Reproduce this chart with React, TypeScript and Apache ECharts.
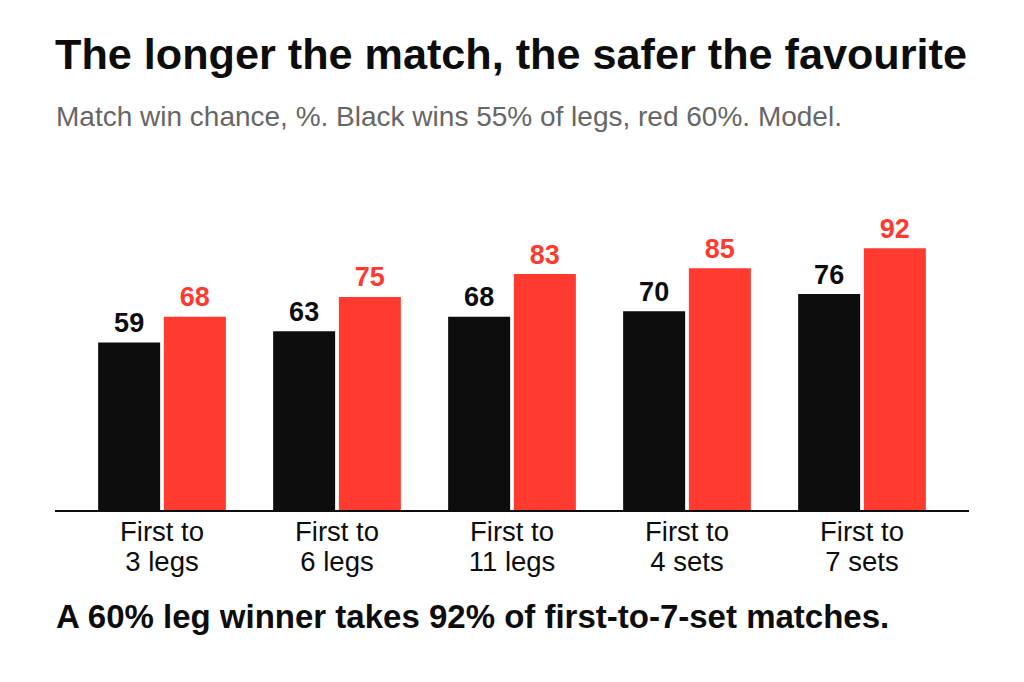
import React, { useEffect, useRef } from "react";
import * as echarts from "echarts";

const categories: string[] = [
  "First to\n3 legs",
  "First to\n6 legs",
  "First to\n11 legs",
  "First to\n4 sets",
  "First to\n7 sets",
];
const blackValues: number[] = [59, 63, 68, 70, 76];
const redValues: number[] = [68, 75, 83, 85, 92];

const TITLE = "The longer the match, the safer the favourite";
const SUBTITLE = "Match win chance, %. Black wins 55% of legs, red 60%. Model.";
const FOOTNOTE = "A 60% leg winner takes 92% of first-to-7-set matches.";

const FONT = "'Liberation Sans', Arial, Helvetica, sans-serif";
const BLACK = "#0d0d0d";
const RED = "#ff3b30";

export default function App() {
  const ref = useRef<HTMLDivElement>(null);

  useEffect(() => {
    if (!ref.current) return;
    const chart = echarts.init(ref.current, undefined, { renderer: "svg" });
    const labelBase = {
      show: true,
      position: "top" as const,
      distance: 6,
      fontFamily: FONT,
      fontSize: 27,
      fontWeight: "bold" as const,
    };
    chart.setOption({
      animation: false,
      backgroundColor: "#ffffff",
      textStyle: { fontFamily: FONT },
      title: [
        {
          text: TITLE,
          left: 55,
          top: 32,
          padding: 0,
          textStyle: { fontFamily: FONT, fontSize: 43.2, fontWeight: "bold", color: BLACK },
        },
        {
          text: SUBTITLE,
          left: 56,
          top: 102,
          padding: 0,
          textStyle: { fontFamily: FONT, fontSize: 28, fontWeight: "normal", color: "#666666" },
        },
        {
          text: FOOTNOTE,
          left: 56,
          top: 599.5,
          padding: 0,
          textStyle: { fontFamily: FONT, fontSize: 33, fontWeight: "bold", color: BLACK },
        },
      ],
      grid: { left: 74.5, right: 74.5, top: 225.5, bottom: 171, containLabel: false },
      xAxis: {
        type: "category",
        data: categories,
        axisLine: { show: false },
        axisTick: { show: false },
        axisLabel: {
          margin: 5.5,
          fontFamily: FONT,
          fontSize: 27.5,
          lineHeight: 30,
          color: BLACK,
        },
      },
      yAxis: {
        type: "value",
        min: 0,
        max: 100,
        show: false,
        splitLine: { show: false },
      },
      graphic: [
        {
          type: "line",
          z: 100,
          shape: { x1: 55, y1: 511, x2: 969, y2: 511 },
          style: { stroke: BLACK, lineWidth: 2 },
        },
      ],
      series: [
        {
          type: "bar",
          data: blackValues,
          barWidth: 62,
          barGap: "6%",
          itemStyle: { color: BLACK },
          label: { ...labelBase, color: BLACK },
        },
        {
          type: "bar",
          data: redValues,
          barWidth: 62,
          barGap: "6%",
          itemStyle: { color: RED },
          label: { ...labelBase, color: RED },
        },
      ],
    });
    return () => chart.dispose();
  }, []);

  return (
    <div
      ref={ref}
      style={{ position: "fixed", left: 0, top: 0, width: 1024, height: 682, background: "#fff" }}
    />
  );
}
